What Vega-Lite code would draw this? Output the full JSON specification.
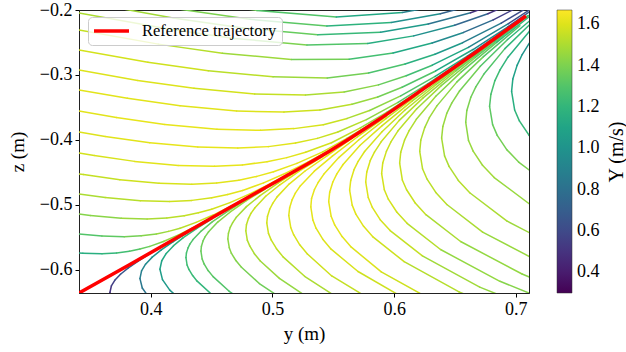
{
"$schema":"https://vega.github.io/schema/vega-lite/v6.json",
"width":450,"height":283,
"autosize":{"type":"none"},
"padding":{"left":79,"top":10,"right":97,"bottom":59},
"background":"white",
"config":{
"view":{"stroke":"#222","strokeWidth":1},
"font":"Liberation Serif",
"axis":{"labelFont":"Liberation Serif","labelFontSize":18,"labelColor":"black","titleFont":"Liberation Serif","titleFontSize":19,"titleFontWeight":"normal","titleColor":"black","tickColor":"black","domainColor":"#222","tickSize":4,"labelPadding":3,"grid":false},
"legend":{"labelFont":"Liberation Serif","titleFont":"Liberation Serif","titleFontWeight":"normal"}
},
"datasets":{
"curves":[
{"c":"u1","i":0,"y":0.3410,"z":-0.5738,"v":1.15},{"c":"u1","i":1,"y":0.3442,"z":-0.5742,"v":1.16},{"c":"u1","i":2,"y":0.3599,"z":-0.5749,"v":1.2},{"c":"u1","i":3,"y":0.3719,"z":-0.5738,"v":1.25},{"c":"u1","i":4,"y":0.3825,"z":-0.5712,"v":1.3},{"c":"u1","i":5,"y":0.3911,"z":-0.5678,"v":1.35},{"c":"u1","i":6,"y":0.3992,"z":-0.5637,"v":1.4},{"c":"u1","i":7,"y":0.4104,"z":-0.5562,"v":1.45},{"c":"u1","i":8,"y":0.4228,"z":-0.5460,"v":1.5},{"c":"u1","i":9,"y":0.4343,"z":-0.5352,"v":1.55},{"c":"u1","i":10,"y":0.4490,"z":-0.5206,"v":1.58},
{"c":"u2","i":0,"y":0.3410,"z":-0.5446,"v":1.3},{"c":"u2","i":1,"y":0.3598,"z":-0.5478,"v":1.33},{"c":"u2","i":2,"y":0.3782,"z":-0.5488,"v":1.38},{"c":"u2","i":3,"y":0.3922,"z":-0.5475,"v":1.42},{"c":"u2","i":4,"y":0.4046,"z":-0.5445,"v":1.46},{"c":"u2","i":5,"y":0.4146,"z":-0.5406,"v":1.5},{"c":"u2","i":6,"y":0.4241,"z":-0.5357,"v":1.53},{"c":"u2","i":7,"y":0.4372,"z":-0.5268,"v":1.56},{"c":"u2","i":8,"y":0.4517,"z":-0.5151,"v":1.58},{"c":"u2","i":9,"y":0.4653,"z":-0.5023,"v":1.6},{"c":"u2","i":10,"y":0.4824,"z":-0.4851,"v":1.61},
{"c":"u3","i":0,"y":0.3410,"z":-0.5138,"v":1.42},{"c":"u3","i":1,"y":0.3503,"z":-0.5162,"v":1.43},{"c":"u3","i":2,"y":0.3758,"z":-0.5205,"v":1.47},{"c":"u3","i":3,"y":0.3970,"z":-0.5215,"v":1.5},{"c":"u3","i":4,"y":0.4132,"z":-0.5200,"v":1.53},{"c":"u3","i":5,"y":0.4275,"z":-0.5166,"v":1.55},{"c":"u3","i":6,"y":0.4391,"z":-0.5120,"v":1.57},{"c":"u3","i":7,"y":0.4500,"z":-0.5065,"v":1.58},{"c":"u3","i":8,"y":0.4651,"z":-0.4963,"v":1.6},{"c":"u3","i":9,"y":0.4818,"z":-0.4826,"v":1.61},{"c":"u3","i":10,"y":0.4975,"z":-0.4678,"v":1.62},{"c":"u3","i":11,"y":0.5173,"z":-0.4480,"v":1.62},
{"c":"u4","i":0,"y":0.3410,"z":-0.4831,"v":1.5},{"c":"u4","i":1,"y":0.3625,"z":-0.4886,"v":1.52},{"c":"u4","i":2,"y":0.3914,"z":-0.4935,"v":1.55},{"c":"u4","i":3,"y":0.4155,"z":-0.4946,"v":1.57},{"c":"u4","i":4,"y":0.4338,"z":-0.4929,"v":1.58},{"c":"u4","i":5,"y":0.4501,"z":-0.4889,"v":1.6},{"c":"u4","i":6,"y":0.4632,"z":-0.4840,"v":1.61},{"c":"u4","i":7,"y":0.4755,"z":-0.4777,"v":1.62},{"c":"u4","i":8,"y":0.4927,"z":-0.4660,"v":1.62},{"c":"u4","i":9,"y":0.5117,"z":-0.4503,"v":1.62},{"c":"u4","i":10,"y":0.5294,"z":-0.4337,"v":1.6},{"c":"u4","i":11,"y":0.5519,"z":-0.4103,"v":1.56},
{"c":"u5","i":0,"y":0.3410,"z":-0.4523,"v":1.55},{"c":"u5","i":1,"y":0.3447,"z":-0.4532,"v":1.55},{"c":"u5","i":2,"y":0.3746,"z":-0.4611,"v":1.57},{"c":"u5","i":3,"y":0.4068,"z":-0.4666,"v":1.59},{"c":"u5","i":4,"y":0.4337,"z":-0.4680,"v":1.6},{"c":"u5","i":5,"y":0.4542,"z":-0.4660,"v":1.61},{"c":"u5","i":6,"y":0.4724,"z":-0.4618,"v":1.62},{"c":"u5","i":7,"y":0.4871,"z":-0.4560,"v":1.62},{"c":"u5","i":8,"y":0.5009,"z":-0.4489,"v":1.62},{"c":"u5","i":9,"y":0.5201,"z":-0.4360,"v":1.61},{"c":"u5","i":10,"y":0.5413,"z":-0.4182,"v":1.58},{"c":"u5","i":11,"y":0.5611,"z":-0.3975,"v":1.52},{"c":"u5","i":12,"y":0.5863,"z":-0.3689,"v":1.42},
{"c":"u6","i":0,"y":0.3410,"z":-0.4200,"v":1.58},{"c":"u6","i":1,"y":0.3535,"z":-0.4238,"v":1.59},{"c":"u6","i":2,"y":0.3867,"z":-0.4329,"v":1.61},{"c":"u6","i":3,"y":0.4225,"z":-0.4391,"v":1.62},{"c":"u6","i":4,"y":0.4524,"z":-0.4405,"v":1.62},{"c":"u6","i":5,"y":0.4753,"z":-0.4383,"v":1.62},{"c":"u6","i":6,"y":0.4955,"z":-0.4334,"v":1.62},{"c":"u6","i":7,"y":0.5118,"z":-0.4271,"v":1.61},{"c":"u6","i":8,"y":0.5272,"z":-0.4189,"v":1.58},{"c":"u6","i":9,"y":0.5485,"z":-0.4042,"v":1.54},{"c":"u6","i":10,"y":0.5722,"z":-0.3814,"v":1.46},{"c":"u6","i":11,"y":0.5942,"z":-0.3571,"v":1.37},{"c":"u6","i":12,"y":0.6220,"z":-0.3228,"v":1.25},
{"c":"u7","i":0,"y":0.3410,"z":-0.3877,"v":1.6},{"c":"u7","i":1,"y":0.3625,"z":-0.3945,"v":1.61},{"c":"u7","i":2,"y":0.3992,"z":-0.4042,"v":1.62},{"c":"u7","i":3,"y":0.4386,"z":-0.4109,"v":1.62},{"c":"u7","i":4,"y":0.4715,"z":-0.4125,"v":1.62},{"c":"u7","i":5,"y":0.4966,"z":-0.4102,"v":1.61},{"c":"u7","i":6,"y":0.5189,"z":-0.4046,"v":1.59},{"c":"u7","i":7,"y":0.5369,"z":-0.3975,"v":1.56},{"c":"u7","i":8,"y":0.5537,"z":-0.3877,"v":1.52},{"c":"u7","i":9,"y":0.5772,"z":-0.3686,"v":1.44},{"c":"u7","i":10,"y":0.6032,"z":-0.3422,"v":1.32},{"c":"u7","i":11,"y":0.6275,"z":-0.3138,"v":1.2},{"c":"u7","i":12,"y":0.6582,"z":-0.2754,"v":1.05},
{"c":"u8","i":0,"y":0.3410,"z":-0.3554,"v":1.61},{"c":"u8","i":1,"y":0.3717,"z":-0.3654,"v":1.62},{"c":"u8","i":2,"y":0.4115,"z":-0.3760,"v":1.62},{"c":"u8","i":3,"y":0.4544,"z":-0.3834,"v":1.62},{"c":"u8","i":4,"y":0.4902,"z":-0.3851,"v":1.61},{"c":"u8","i":5,"y":0.5176,"z":-0.3825,"v":1.59},{"c":"u8","i":6,"y":0.5418,"z":-0.3765,"v":1.56},{"c":"u8","i":7,"y":0.5614,"z":-0.3668,"v":1.5},{"c":"u8","i":8,"y":0.5798,"z":-0.3546,"v":1.44},{"c":"u8","i":9,"y":0.6054,"z":-0.3322,"v":1.3},{"c":"u8","i":10,"y":0.6337,"z":-0.3022,"v":1.15},{"c":"u8","i":11,"y":0.6601,"z":-0.2709,"v":1.0},{"c":"u8","i":12,"y":0.6935,"z":-0.2280,"v":0.8},
{"c":"u9","i":0,"y":0.3410,"z":-0.3231,"v":1.61},{"c":"u9","i":1,"y":0.3808,"z":-0.3358,"v":1.61},{"c":"u9","i":2,"y":0.4240,"z":-0.3472,"v":1.61},{"c":"u9","i":3,"y":0.4705,"z":-0.3554,"v":1.6},{"c":"u9","i":4,"y":0.5094,"z":-0.3571,"v":1.57},{"c":"u9","i":5,"y":0.5390,"z":-0.3540,"v":1.53},{"c":"u9","i":6,"y":0.5653,"z":-0.3449,"v":1.46},{"c":"u9","i":7,"y":0.5865,"z":-0.3338,"v":1.38},{"c":"u9","i":8,"y":0.6065,"z":-0.3189,"v":1.3},{"c":"u9","i":9,"y":0.6341,"z":-0.2938,"v":1.12},{"c":"u9","i":10,"y":0.6648,"z":-0.2608,"v":0.95},{"c":"u9","i":11,"y":0.6934,"z":-0.2258,"v":0.7},{"c":"u9","i":12,"y":0.7297,"z":-0.1789,"v":0.45},
{"c":"u10","i":0,"y":0.3410,"z":-0.2923,"v":1.6},{"c":"u10","i":1,"y":0.3892,"z":-0.3083,"v":1.6},{"c":"u10","i":2,"y":0.4355,"z":-0.3205,"v":1.58},{"c":"u10","i":3,"y":0.4854,"z":-0.3291,"v":1.55},{"c":"u10","i":4,"y":0.5271,"z":-0.3308,"v":1.5},{"c":"u10","i":5,"y":0.5589,"z":-0.3260,"v":1.43},{"c":"u10","i":6,"y":0.5871,"z":-0.3152,"v":1.35},{"c":"u10","i":7,"y":0.6099,"z":-0.3011,"v":1.25},{"c":"u10","i":8,"y":0.6313,"z":-0.2849,"v":1.12},{"c":"u10","i":9,"y":0.6610,"z":-0.2575,"v":0.92},{"c":"u10","i":10,"y":0.6939,"z":-0.2211,"v":0.62},{"c":"u10","i":11,"y":0.7246,"z":-0.1834,"v":0.4},
{"c":"u11","i":0,"y":0.3410,"z":-0.2615,"v":1.58},{"c":"u11","i":1,"y":0.3976,"z":-0.2803,"v":1.57},{"c":"u11","i":2,"y":0.4472,"z":-0.2935,"v":1.53},{"c":"u11","i":3,"y":0.5004,"z":-0.3028,"v":1.47},{"c":"u11","i":4,"y":0.5450,"z":-0.3045,"v":1.38},{"c":"u11","i":5,"y":0.5790,"z":-0.2968,"v":1.28},{"c":"u11","i":6,"y":0.6090,"z":-0.2832,"v":1.17},{"c":"u11","i":7,"y":0.6335,"z":-0.2680,"v":1.04},{"c":"u11","i":8,"y":0.6563,"z":-0.2503,"v":0.88},{"c":"u11","i":9,"y":0.6880,"z":-0.2203,"v":0.62},{"c":"u11","i":10,"y":0.7232,"z":-0.1809,"v":0.4},
{"c":"u12","i":0,"y":0.3410,"z":-0.2308,"v":1.55},{"c":"u12","i":1,"y":0.4062,"z":-0.2525,"v":1.52},{"c":"u12","i":2,"y":0.4588,"z":-0.2665,"v":1.47},{"c":"u12","i":3,"y":0.5155,"z":-0.2762,"v":1.38},{"c":"u12","i":4,"y":0.5630,"z":-0.2757,"v":1.26},{"c":"u12","i":5,"y":0.5991,"z":-0.2663,"v":1.12},{"c":"u12","i":6,"y":0.6312,"z":-0.2509,"v":0.95},{"c":"u12","i":7,"y":0.6570,"z":-0.2345,"v":0.78},{"c":"u12","i":8,"y":0.6814,"z":-0.2152,"v":0.55},{"c":"u12","i":9,"y":0.7150,"z":-0.1828,"v":0.38},
{"c":"u13","i":0,"y":0.3410,"z":-0.2046,"v":1.5},{"c":"u13","i":1,"y":0.4133,"z":-0.2288,"v":1.46},{"c":"u13","i":2,"y":0.4687,"z":-0.2437,"v":1.4},{"c":"u13","i":3,"y":0.5283,"z":-0.2537,"v":1.3},{"c":"u13","i":4,"y":0.5782,"z":-0.2514,"v":1.15},{"c":"u13","i":5,"y":0.6161,"z":-0.2398,"v":0.98},{"c":"u13","i":6,"y":0.6497,"z":-0.2235,"v":0.75},{"c":"u13","i":7,"y":0.6770,"z":-0.2058,"v":0.5},{"c":"u13","i":8,"y":0.7026,"z":-0.1849,"v":0.38},
{"c":"t1","i":0,"y":0.3410,"z":-0.1862,"v":1.48},{"c":"t1","i":1,"y":0.4184,"z":-0.2123,"v":1.43},{"c":"t1","i":2,"y":0.4757,"z":-0.2277,"v":1.35},{"c":"t1","i":3,"y":0.5372,"z":-0.2380,"v":1.22},{"c":"t1","i":4,"y":0.5888,"z":-0.2343,"v":1.05},{"c":"t1","i":5,"y":0.6280,"z":-0.2214,"v":0.82},{"c":"t1","i":6,"y":0.6628,"z":-0.2043,"v":0.5},{"c":"t1","i":7,"y":0.6910,"z":-0.1854,"v":0.38},
{"c":"t2","i":0,"y":0.3410,"z":-0.1708,"v":1.45},{"c":"t2","i":1,"y":0.4226,"z":-0.1985,"v":1.4},{"c":"t2","i":2,"y":0.4814,"z":-0.2143,"v":1.32},{"c":"t2","i":3,"y":0.5447,"z":-0.2245,"v":1.18},{"c":"t2","i":4,"y":0.5976,"z":-0.2191,"v":0.98},{"c":"t2","i":5,"y":0.6380,"z":-0.2057,"v":0.72},{"c":"t2","i":6,"y":0.6737,"z":-0.1880,"v":0.45},{"c":"t2","i":7,"y":0.7026,"z":-0.1682,"v":0.35},
{"c":"t3","i":0,"y":0.4269,"z":-0.1846,"v":1.38},{"c":"t3","i":1,"y":0.4873,"z":-0.2006,"v":1.3},{"c":"t3","i":2,"y":0.5524,"z":-0.2106,"v":1.12},{"c":"t3","i":3,"y":0.6067,"z":-0.2037,"v":0.9},{"c":"t3","i":4,"y":0.6481,"z":-0.1898,"v":0.6},{"c":"t3","i":5,"y":0.6848,"z":-0.1711,"v":0.4},
{"c":"l1","i":0,"y":0.3680,"z":-0.6472,"v":0.48},{"c":"l1","i":1,"y":0.3664,"z":-0.6346,"v":0.5},{"c":"l1","i":2,"y":0.3676,"z":-0.6246,"v":0.55},{"c":"l1","i":3,"y":0.3704,"z":-0.6158,"v":0.6},{"c":"l1","i":4,"y":0.3751,"z":-0.6066,"v":0.67},{"c":"l1","i":5,"y":0.3813,"z":-0.5971,"v":0.75},{"c":"l1","i":6,"y":0.3897,"z":-0.5862,"v":0.85},{"c":"l1","i":7,"y":0.3997,"z":-0.5745,"v":0.95},
{"c":"l2","i":0,"y":0.4083,"z":-0.6589,"v":0.8},{"c":"l2","i":1,"y":0.3985,"z":-0.6423,"v":0.82},{"c":"l2","i":2,"y":0.3930,"z":-0.6277,"v":0.85},{"c":"l2","i":3,"y":0.3911,"z":-0.6132,"v":0.88},{"c":"l2","i":4,"y":0.3924,"z":-0.6014,"v":0.92},{"c":"l2","i":5,"y":0.3957,"z":-0.5911,"v":0.96},{"c":"l2","i":6,"y":0.4012,"z":-0.5802,"v":1.0},{"c":"l2","i":7,"y":0.4086,"z":-0.5691,"v":1.05},{"c":"l2","i":8,"y":0.4185,"z":-0.5563,"v":1.1},{"c":"l2","i":9,"y":0.4302,"z":-0.5425,"v":1.15},
{"c":"l3","i":0,"y":0.4265,"z":-0.6492,"v":1.02},{"c":"l3","i":1,"y":0.4156,"z":-0.6309,"v":1.04},{"c":"l3","i":2,"y":0.4096,"z":-0.6149,"v":1.06},{"c":"l3","i":3,"y":0.4075,"z":-0.5989,"v":1.09},{"c":"l3","i":4,"y":0.4090,"z":-0.5858,"v":1.12},{"c":"l3","i":5,"y":0.4127,"z":-0.5745,"v":1.15},{"c":"l3","i":6,"y":0.4187,"z":-0.5626,"v":1.19},{"c":"l3","i":7,"y":0.4267,"z":-0.5503,"v":1.23},{"c":"l3","i":8,"y":0.4376,"z":-0.5362,"v":1.27},{"c":"l3","i":9,"y":0.4505,"z":-0.5211,"v":1.32},
{"c":"l4","i":0,"y":0.4722,"z":-0.6660,"v":1.18},{"c":"l4","i":1,"y":0.4504,"z":-0.6382,"v":1.2},{"c":"l4","i":2,"y":0.4381,"z":-0.6172,"v":1.22},{"c":"l4","i":2.5,"y":0.4344,"z":-0.6086,"v":1.23},{"c":"l4","i":3,"y":0.4313,"z":-0.5991,"v":1.24},{"c":"l4","i":3.5,"y":0.4298,"z":-0.5923,"v":1.25},{"c":"l4","i":4,"y":0.4289,"z":-0.5809,"v":1.26},{"c":"l4","i":4.5,"y":0.4293,"z":-0.5737,"v":1.27},{"c":"l4","i":5,"y":0.4306,"z":-0.5660,"v":1.28},{"c":"l4","i":5.5,"y":0.4321,"z":-0.5602,"v":1.29},{"c":"l4","i":6,"y":0.4347,"z":-0.5532,"v":1.3},{"c":"l4","i":7,"y":0.4416,"z":-0.5397,"v":1.33},{"c":"l4","i":8,"y":0.4507,"z":-0.5257,"v":1.36},{"c":"l4","i":9,"y":0.4631,"z":-0.5097,"v":1.4},{"c":"l4","i":10,"y":0.4778,"z":-0.4923,"v":1.44},
{"c":"l5","i":0,"y":0.4879,"z":-0.6628,"v":1.28},{"c":"l5","i":1,"y":0.4644,"z":-0.6328,"v":1.3},{"c":"l5","i":2,"y":0.4512,"z":-0.6102,"v":1.32},{"c":"l5","i":2.5,"y":0.4471,"z":-0.6009,"v":1.33},{"c":"l5","i":3,"y":0.4438,"z":-0.5906,"v":1.34},{"c":"l5","i":3.5,"y":0.4422,"z":-0.5831,"v":1.35},{"c":"l5","i":4,"y":0.4412,"z":-0.5709,"v":1.36},{"c":"l5","i":4.5,"y":0.4416,"z":-0.5634,"v":1.37},{"c":"l5","i":5,"y":0.4430,"z":-0.5549,"v":1.38},{"c":"l5","i":5.5,"y":0.4447,"z":-0.5486,"v":1.39},{"c":"l5","i":6,"y":0.4475,"z":-0.5411,"v":1.4},{"c":"l5","i":7,"y":0.4550,"z":-0.5263,"v":1.43},{"c":"l5","i":8,"y":0.4648,"z":-0.5115,"v":1.46},{"c":"l5","i":9,"y":0.4782,"z":-0.4938,"v":1.5},{"c":"l5","i":10,"y":0.4940,"z":-0.4754,"v":1.53},
{"c":"l6","i":0,"y":0.5154,"z":-0.6538,"v":1.37},{"c":"l6","i":1,"y":0.4892,"z":-0.6208,"v":1.39},{"c":"l6","i":2,"y":0.4745,"z":-0.5957,"v":1.41},{"c":"l6","i":2.5,"y":0.4699,"z":-0.5854,"v":1.42},{"c":"l6","i":3,"y":0.4662,"z":-0.5742,"v":1.43},{"c":"l6","i":3.5,"y":0.4645,"z":-0.5657,"v":1.44},{"c":"l6","i":4,"y":0.4633,"z":-0.5522,"v":1.45},{"c":"l6","i":4.5,"y":0.4638,"z":-0.5435,"v":1.46},{"c":"l6","i":5,"y":0.4653,"z":-0.5343,"v":1.47},{"c":"l6","i":5.5,"y":0.4673,"z":-0.5272,"v":1.48},{"c":"l6","i":6,"y":0.4703,"z":-0.5189,"v":1.49},{"c":"l6","i":7,"y":0.4786,"z":-0.5025,"v":1.51},{"c":"l6","i":8,"y":0.4895,"z":-0.4860,"v":1.54},{"c":"l6","i":9,"y":0.5045,"z":-0.4665,"v":1.57},{"c":"l6","i":10,"y":0.5221,"z":-0.4457,"v":1.6},
{"c":"l7","i":0,"y":0.5336,"z":-0.6480,"v":1.45},{"c":"l7","i":1,"y":0.5057,"z":-0.6129,"v":1.47},{"c":"l7","i":2,"y":0.4900,"z":-0.5862,"v":1.49},{"c":"l7","i":2.5,"y":0.4851,"z":-0.5749,"v":1.5},{"c":"l7","i":3,"y":0.4813,"z":-0.5629,"v":1.51},{"c":"l7","i":3.5,"y":0.4793,"z":-0.5540,"v":1.52},{"c":"l7","i":4,"y":0.4781,"z":-0.5397,"v":1.53},{"c":"l7","i":4.5,"y":0.4786,"z":-0.5305,"v":1.54},{"c":"l7","i":5,"y":0.4803,"z":-0.5205,"v":1.55},{"c":"l7","i":5.5,"y":0.4823,"z":-0.5129,"v":1.555},{"c":"l7","i":6,"y":0.4856,"z":-0.5042,"v":1.56},{"c":"l7","i":7,"y":0.4944,"z":-0.4866,"v":1.58},{"c":"l7","i":8,"y":0.5061,"z":-0.4689,"v":1.6},{"c":"l7","i":9,"y":0.5220,"z":-0.4480,"v":1.61},{"c":"l7","i":10,"y":0.5408,"z":-0.4258,"v":1.62},
{"c":"l8","i":0,"y":0.5578,"z":-0.6478,"v":1.5},{"c":"l8","i":1,"y":0.5264,"z":-0.6097,"v":1.52},{"c":"l8","i":2,"y":0.5087,"z":-0.5798,"v":1.54},{"c":"l8","i":2.5,"y":0.5033,"z":-0.5672,"v":1.55},{"c":"l8","i":3,"y":0.4989,"z":-0.5537,"v":1.56},{"c":"l8","i":3.5,"y":0.4967,"z":-0.5437,"v":1.57},{"c":"l8","i":4,"y":0.4953,"z":-0.5275,"v":1.58},{"c":"l8","i":4.5,"y":0.4959,"z":-0.5172,"v":1.585},{"c":"l8","i":5,"y":0.4978,"z":-0.5062,"v":1.59},{"c":"l8","i":5.5,"y":0.5002,"z":-0.4975,"v":1.595},{"c":"l8","i":6,"y":0.5038,"z":-0.4875,"v":1.6},{"c":"l8","i":7,"y":0.5137,"z":-0.4678,"v":1.61},{"c":"l8","i":8,"y":0.5268,"z":-0.4477,"v":1.62},{"c":"l8","i":9,"y":0.5448,"z":-0.4243,"v":1.62},{"c":"l8","i":10,"y":0.5659,"z":-0.3968,"v":1.6},
{"c":"l9","i":0,"y":0.5845,"z":-0.6497,"v":1.55},{"c":"l9","i":1,"y":0.5487,"z":-0.6092,"v":1.57},{"c":"l9","i":2,"y":0.5287,"z":-0.5754,"v":1.58},{"c":"l9","i":2.5,"y":0.5224,"z":-0.5612,"v":1.59},{"c":"l9","i":3,"y":0.5174,"z":-0.5457,"v":1.6},{"c":"l9","i":3.5,"y":0.5150,"z":-0.5345,"v":1.605},{"c":"l9","i":4,"y":0.5134,"z":-0.5160,"v":1.61},{"c":"l9","i":4.5,"y":0.5141,"z":-0.5043,"v":1.615},{"c":"l9","i":5,"y":0.5162,"z":-0.4917,"v":1.62},{"c":"l9","i":5.5,"y":0.5188,"z":-0.4818,"v":1.62},{"c":"l9","i":6,"y":0.5230,"z":-0.4703,"v":1.62},{"c":"l9","i":7,"y":0.5344,"z":-0.4480,"v":1.62},{"c":"l9","i":8,"y":0.5492,"z":-0.4248,"v":1.61},{"c":"l9","i":9,"y":0.5697,"z":-0.3954,"v":1.58},{"c":"l9","i":10,"y":0.5938,"z":-0.3632,"v":1.53},
{"c":"l10","i":0,"y":0.6095,"z":-0.6448,"v":1.57},{"c":"l10","i":1,"y":0.5703,"z":-0.6023,"v":1.59},{"c":"l10","i":2,"y":0.5482,"z":-0.5680,"v":1.6},{"c":"l10","i":2.5,"y":0.5413,"z":-0.5526,"v":1.605},{"c":"l10","i":3,"y":0.5358,"z":-0.5357,"v":1.61},{"c":"l10","i":3.5,"y":0.5332,"z":-0.5232,"v":1.615},{"c":"l10","i":4,"y":0.5315,"z":-0.5029,"v":1.62},{"c":"l10","i":4.5,"y":0.5321,"z":-0.4900,"v":1.62},{"c":"l10","i":5,"y":0.5345,"z":-0.4762,"v":1.62},{"c":"l10","i":5.5,"y":0.5375,"z":-0.4654,"v":1.62},{"c":"l10","i":6,"y":0.5421,"z":-0.4528,"v":1.62},{"c":"l10","i":7,"y":0.5545,"z":-0.4271,"v":1.61},{"c":"l10","i":8,"y":0.5708,"z":-0.4000,"v":1.59},{"c":"l10","i":9,"y":0.5932,"z":-0.3672,"v":1.55},{"c":"l10","i":10,"y":0.6196,"z":-0.3300,"v":1.48},
{"c":"l11","i":0,"y":0.6330,"z":-0.6482,"v":1.57},{"c":"l11","i":1,"y":0.5894,"z":-0.6029,"v":1.6},{"c":"l11","i":2,"y":0.5648,"z":-0.5649,"v":1.61},{"c":"l11","i":2.5,"y":0.5572,"z":-0.5486,"v":1.615},{"c":"l11","i":3,"y":0.5511,"z":-0.5306,"v":1.62},{"c":"l11","i":3.5,"y":0.5482,"z":-0.5172,"v":1.62},{"c":"l11","i":4,"y":0.5462,"z":-0.4949,"v":1.62},{"c":"l11","i":4.5,"y":0.5470,"z":-0.4805,"v":1.62},{"c":"l11","i":5,"y":0.5496,"z":-0.4646,"v":1.62},{"c":"l11","i":5.5,"y":0.5529,"z":-0.4522,"v":1.62},{"c":"l11","i":6,"y":0.5580,"z":-0.4377,"v":1.61},{"c":"l11","i":7,"y":0.5718,"z":-0.4085,"v":1.6},{"c":"l11","i":8,"y":0.5899,"z":-0.3782,"v":1.57},{"c":"l11","i":9,"y":0.6149,"z":-0.3398,"v":1.5},{"c":"l11","i":10,"y":0.6442,"z":-0.2983,"v":1.4},{"c":"l11","i":11,"y":0.6873,"z":-0.2389,"v":1.2},
{"c":"l12","i":0,"y":0.7157,"z":-0.6815,"v":1.5},{"c":"l12","i":1,"y":0.6533,"z":-0.6337,"v":1.52},{"c":"l12","i":2,"y":0.6082,"z":-0.5872,"v":1.57},{"c":"l12","i":3,"y":0.5828,"z":-0.5495,"v":1.6},{"c":"l12","i":3.5,"y":0.5749,"z":-0.5328,"v":1.605},{"c":"l12","i":4,"y":0.5685,"z":-0.5140,"v":1.61},{"c":"l12","i":4.5,"y":0.5655,"z":-0.5002,"v":1.61},{"c":"l12","i":5,"y":0.5634,"z":-0.4771,"v":1.61},{"c":"l12","i":5.5,"y":0.5643,"z":-0.4622,"v":1.605},{"c":"l12","i":6,"y":0.5670,"z":-0.4457,"v":1.6},{"c":"l12","i":6.5,"y":0.5704,"z":-0.4328,"v":1.595},{"c":"l12","i":7,"y":0.5757,"z":-0.4177,"v":1.59},{"c":"l12","i":8,"y":0.5900,"z":-0.3872,"v":1.56},{"c":"l12","i":9,"y":0.6087,"z":-0.3543,"v":1.52},{"c":"l12","i":10,"y":0.6346,"z":-0.3146,"v":1.45},{"c":"l12","i":11,"y":0.6650,"z":-0.2712,"v":1.33},{"c":"l12","i":12,"y":0.7097,"z":-0.2088,"v":1.05},
{"c":"l13","i":0,"y":0.7353,"z":-0.6754,"v":1.45},{"c":"l13","i":1,"y":0.6703,"z":-0.6263,"v":1.48},{"c":"l13","i":2,"y":0.6232,"z":-0.5783,"v":1.55},{"c":"l13","i":3,"y":0.5967,"z":-0.5394,"v":1.58},{"c":"l13","i":3.5,"y":0.5885,"z":-0.5226,"v":1.595},{"c":"l13","i":4,"y":0.5819,"z":-0.5032,"v":1.6},{"c":"l13","i":4.5,"y":0.5787,"z":-0.4886,"v":1.6},{"c":"l13","i":5,"y":0.5766,"z":-0.4646,"v":1.6},{"c":"l13","i":5.5,"y":0.5775,"z":-0.4491,"v":1.59},{"c":"l13","i":6,"y":0.5803,"z":-0.4318,"v":1.58},{"c":"l13","i":6.5,"y":0.5838,"z":-0.4186,"v":1.57},{"c":"l13","i":7,"y":0.5893,"z":-0.4028,"v":1.56},{"c":"l13","i":8,"y":0.6042,"z":-0.3698,"v":1.52},{"c":"l13","i":9,"y":0.6238,"z":-0.3352,"v":1.47},{"c":"l13","i":10,"y":0.6507,"z":-0.2938,"v":1.38},{"c":"l13","i":11,"y":0.6824,"z":-0.2480,"v":1.25},{"c":"l13","i":12,"y":0.7289,"z":-0.1828,"v":0.95},
{"c":"l14","i":0,"y":0.7542,"z":-0.6683,"v":1.42},{"c":"l14","i":1,"y":0.6869,"z":-0.6174,"v":1.45},{"c":"l14","i":2,"y":0.6381,"z":-0.5685,"v":1.52},{"c":"l14","i":3,"y":0.6106,"z":-0.5282,"v":1.56},{"c":"l14","i":3.5,"y":0.6021,"z":-0.5108,"v":1.58},{"c":"l14","i":4,"y":0.5952,"z":-0.4911,"v":1.58},{"c":"l14","i":4.5,"y":0.5919,"z":-0.4765,"v":1.58},{"c":"l14","i":5,"y":0.5897,"z":-0.4517,"v":1.58},{"c":"l14","i":5.5,"y":0.5906,"z":-0.4355,"v":1.57},{"c":"l14","i":6,"y":0.5936,"z":-0.4175,"v":1.56},{"c":"l14","i":6.5,"y":0.5972,"z":-0.4034,"v":1.55},{"c":"l14","i":7,"y":0.6030,"z":-0.3863,"v":1.53},{"c":"l14","i":8,"y":0.6184,"z":-0.3523,"v":1.48},{"c":"l14","i":9,"y":0.6387,"z":-0.3163,"v":1.42},{"c":"l14","i":10,"y":0.6667,"z":-0.2731,"v":1.32},{"c":"l14","i":11,"y":0.6994,"z":-0.2251,"v":1.12},
{"c":"l15","i":0,"y":0.7749,"z":-0.6591,"v":1.43},{"c":"l15","i":1,"y":0.7051,"z":-0.6062,"v":1.45},{"c":"l15","i":2,"y":0.6546,"z":-0.5562,"v":1.5},{"c":"l15","i":3,"y":0.6261,"z":-0.5149,"v":1.55},{"c":"l15","i":3.5,"y":0.6173,"z":-0.4969,"v":1.56},{"c":"l15","i":4,"y":0.6102,"z":-0.4766,"v":1.56},{"c":"l15","i":4.5,"y":0.6067,"z":-0.4615,"v":1.56},{"c":"l15","i":5,"y":0.6045,"z":-0.4357,"v":1.55},{"c":"l15","i":5.5,"y":0.6054,"z":-0.4189,"v":1.54},{"c":"l15","i":6,"y":0.6085,"z":-0.4003,"v":1.53},{"c":"l15","i":6.5,"y":0.6123,"z":-0.3855,"v":1.51},{"c":"l15","i":7,"y":0.6182,"z":-0.3682,"v":1.48},{"c":"l15","i":8,"y":0.6342,"z":-0.3326,"v":1.42},{"c":"l15","i":9,"y":0.6552,"z":-0.2952,"v":1.35},{"c":"l15","i":10,"y":0.6842,"z":-0.2498,"v":1.22},{"c":"l15","i":11,"y":0.7182,"z":-0.1997,"v":1.0},
{"c":"l16","i":0,"y":0.7250,"z":-0.5928,"v":1.46},{"c":"l16","i":1,"y":0.6727,"z":-0.5417,"v":1.5},{"c":"l16","i":2,"y":0.6433,"z":-0.4992,"v":1.53},{"c":"l16","i":2.5,"y":0.6342,"z":-0.4806,"v":1.53},{"c":"l16","i":3,"y":0.6269,"z":-0.4597,"v":1.53},{"c":"l16","i":3.5,"y":0.6233,"z":-0.4442,"v":1.53},{"c":"l16","i":4,"y":0.6210,"z":-0.4175,"v":1.52},{"c":"l16","i":4.5,"y":0.6219,"z":-0.4002,"v":1.51},{"c":"l16","i":5,"y":0.6251,"z":-0.3809,"v":1.48},{"c":"l16","i":5.5,"y":0.6289,"z":-0.3657,"v":1.47},{"c":"l16","i":6,"y":0.6351,"z":-0.3475,"v":1.44},{"c":"l16","i":7,"y":0.6516,"z":-0.3106,"v":1.38},{"c":"l16","i":8,"y":0.6734,"z":-0.2717,"v":1.3},{"c":"l16","i":9,"y":0.7033,"z":-0.2242,"v":1.12},
{"c":"l17","i":0,"y":0.7465,"z":-0.5772,"v":1.47},{"c":"l17","i":1,"y":0.6925,"z":-0.5245,"v":1.5},{"c":"l17","i":2,"y":0.6621,"z":-0.4812,"v":1.52},{"c":"l17","i":2.5,"y":0.6527,"z":-0.4622,"v":1.51},{"c":"l17","i":3,"y":0.6451,"z":-0.4406,"v":1.5},{"c":"l17","i":3.5,"y":0.6414,"z":-0.4245,"v":1.49},{"c":"l17","i":4,"y":0.6390,"z":-0.3971,"v":1.47},{"c":"l17","i":4.5,"y":0.6400,"z":-0.3791,"v":1.46},{"c":"l17","i":5,"y":0.6432,"z":-0.3591,"v":1.43},{"c":"l17","i":5.5,"y":0.6473,"z":-0.3432,"v":1.42},{"c":"l17","i":6,"y":0.6537,"z":-0.3246,"v":1.38},{"c":"l17","i":7,"y":0.6708,"z":-0.2865,"v":1.3},{"c":"l17","i":8,"y":0.6932,"z":-0.2454,"v":1.2},{"c":"l17","i":9,"y":0.7242,"z":-0.1963,"v":1.0},
{"c":"l18","i":0,"y":0.7131,"z":-0.5012,"v":1.46},{"c":"l18","i":1,"y":0.6822,"z":-0.4578,"v":1.48},{"c":"l18","i":1.5,"y":0.6726,"z":-0.4388,"v":1.47},{"c":"l18","i":2,"y":0.6649,"z":-0.4171,"v":1.46},{"c":"l18","i":2.5,"y":0.6611,"z":-0.4008,"v":1.44},{"c":"l18","i":3,"y":0.6588,"z":-0.3728,"v":1.42},{"c":"l18","i":3.5,"y":0.6597,"z":-0.3546,"v":1.4},{"c":"l18","i":4,"y":0.6630,"z":-0.3343,"v":1.37},{"c":"l18","i":4.5,"y":0.6671,"z":-0.3182,"v":1.34},{"c":"l18","i":5,"y":0.6736,"z":-0.2989,"v":1.3},{"c":"l18","i":6,"y":0.6910,"z":-0.2594,"v":1.2},{"c":"l18","i":7,"y":0.7138,"z":-0.2179,"v":1.05},
{"c":"l19","i":0,"y":0.7337,"z":-0.4782,"v":1.4},{"c":"l19","i":1,"y":0.7023,"z":-0.4340,"v":1.4},{"c":"l19","i":1.5,"y":0.6925,"z":-0.4148,"v":1.38},{"c":"l19","i":2,"y":0.6847,"z":-0.3929,"v":1.36},{"c":"l19","i":2.5,"y":0.6809,"z":-0.3763,"v":1.33},{"c":"l19","i":3,"y":0.6784,"z":-0.3482,"v":1.3},{"c":"l19","i":3.5,"y":0.6795,"z":-0.3295,"v":1.27},{"c":"l19","i":4,"y":0.6828,"z":-0.3086,"v":1.24},{"c":"l19","i":4.5,"y":0.6870,"z":-0.2922,"v":1.2},{"c":"l19","i":5,"y":0.6935,"z":-0.2726,"v":1.16},{"c":"l19","i":6,"y":0.7112,"z":-0.2325,"v":1.05},{"c":"l19","i":7,"y":0.7344,"z":-0.1903,"v":0.9},
{"c":"l20","i":0,"y":0.7207,"z":-0.4125,"v":1.25},{"c":"l20","i":0.5,"y":0.7109,"z":-0.3929,"v":1.22},{"c":"l20","i":1,"y":0.7029,"z":-0.3706,"v":1.2},{"c":"l20","i":1.5,"y":0.6990,"z":-0.3538,"v":1.16},{"c":"l20","i":2,"y":0.6965,"z":-0.3252,"v":1.12},{"c":"l20","i":2.5,"y":0.6975,"z":-0.3063,"v":1.08},{"c":"l20","i":3,"y":0.7010,"z":-0.2852,"v":1.05},{"c":"l20","i":3.5,"y":0.7052,"z":-0.2685,"v":1.0},{"c":"l20","i":4,"y":0.7118,"z":-0.2486,"v":0.95},{"c":"l20","i":5,"y":0.7298,"z":-0.2077,"v":0.82}
],
"ref":[
{"y":0.3410,"z":-0.6354},{"y":0.3821,"z":-0.5923},{"y":0.4232,"z":-0.5485},{"y":0.4643,"z":-0.5046},{"y":0.5054,"z":-0.4615},{"y":0.5464,"z":-0.4177},{"y":0.5875,"z":-0.3685},{"y":0.6286,"z":-0.3154},{"y":0.6697,"z":-0.2615},{"y":0.7083,"z":-0.2092}
]
},
"layer":[
{
"data":{"name":"curves"},
"transform":[
{"window":[{"op":"lead","field":"y","as":"y2"},{"op":"lead","field":"z","as":"z2"}],"groupby":["c"],"sort":[{"field":"i","order":"ascending"}]},
{"filter":"datum.y2 != null"}
],
"mark":{"type":"rule","strokeWidth":1.5,"strokeCap":"round","clip":true},
"encoding":{
"x":{"field":"y","type":"quantitative","scale":{"domain":[0.341,0.7108],"nice":false,"zero":false},"axis":{"values":[0.4,0.5,0.6,0.7],"format":".1f","title":"y (m)","titlePadding":6}},
"y":{"field":"z","type":"quantitative","scale":{"domain":[-0.6354,-0.2],"nice":false,"zero":false},"axis":{"values":[-0.6,-0.5,-0.4,-0.3,-0.2],"format":".1f","title":"z (m)","titlePadding":12}},
"x2":{"field":"y2"},
"y2":{"field":"z2"},
"color":{"field":"v","type":"quantitative","scale":{"scheme":"viridis","domain":[0.3,1.67]},
"legend":{"orient":"none","legendX":478,"legendY":0,"direction":"vertical","gradientLength":283,"gradientThickness":15,"title":"Υ (m/s)","titleOrient":"right","titleFontSize":20,"titleAnchor":"middle","titlePadding":27,"titleColor":"black","values":[0.4,0.6,0.8,1.0,1.2,1.4,1.6],"format":".1f","labelFontSize":18,"labelColor":"black","labelOffset":5,"labelOverlap":false,"gradientStrokeColor":"#333","gradientStrokeWidth":0.5,
"encode":{"title":{"update":{"angle":{"value":270}}}}}}
}
},
{
"data":{"name":"ref"},
"mark":{"type":"line","strokeWidth":3.5,"clip":true,"interpolate":"monotone"},
"encoding":{
"x":{"field":"y","type":"quantitative","scale":{"domain":[0.341,0.7108],"nice":false,"zero":false}},
"y":{"field":"z","type":"quantitative","scale":{"domain":[-0.6354,-0.2],"nice":false,"zero":false}},
"stroke":{"datum":"Reference trajectory","type":"nominal","scale":{"range":["#ff0000"]},
"legend":{"orient":"none","legendX":9,"legendY":7,"title":null,"symbolType":"M-2.5,0L2.5,0","symbolSize":196,"symbolStrokeWidth":3.5,"symbolFillColor":"transparent","symbolOffset":9.5,"labelFontSize":16.5,"labelColor":"black","labelOffset":21.5,"fillColor":"rgba(255,255,255,0.8)","strokeColor":"#cccccc","cornerRadius":4,"padding":5}}
}
}
]
}
